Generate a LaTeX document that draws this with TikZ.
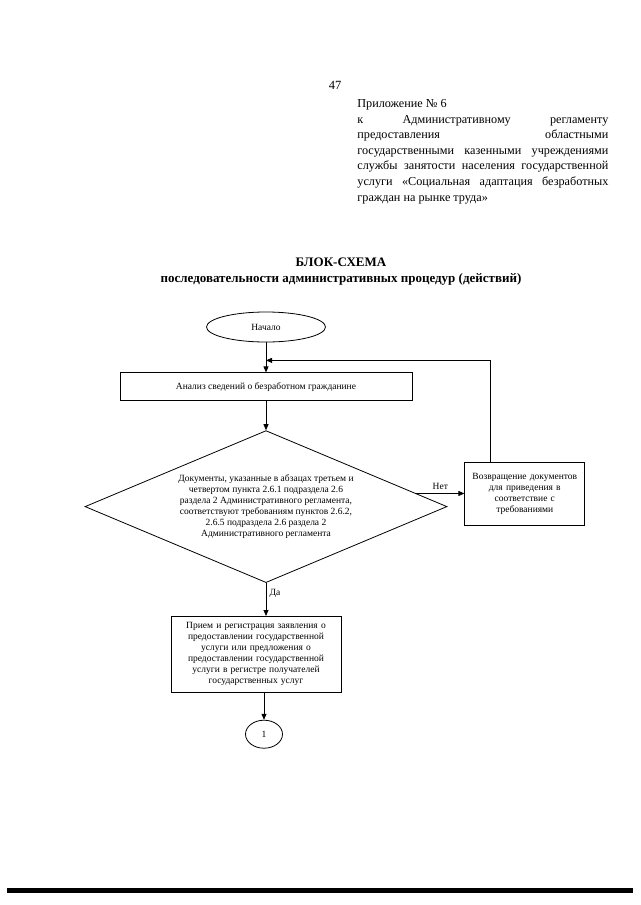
\documentclass[tikz,border=0pt]{standalone}
\usepackage{fontspec}
\setmainfont{Liberation Serif}
\usepackage{tikz}
\usetikzlibrary{shapes.geometric,positioning,arrows.meta}
\tikzset{
	note/.style = {
		font=\fontsize{9.5pt}{11pt}\selectfont
	}
}

\begin{document}
\begin{tikzpicture}[
		x=1pt, y=-1pt,
		auto,
        node distance = 30pt,
        block/.style = {rectangle, draw, note, align=center, inner sep=4pt},
        term/.style = {ellipse, draw, note, inner sep=0pt},
        decision/.style = {diamond, draw, note, align=center, inner sep=0pt, shape aspect=2.4},
        line width=0.8pt,
        -{Triangle[length=6pt,width=5pt]}
    ]
    \useasboundingbox (0,0) rectangle (640,905);

    % header
    \node[font=\fontsize{12.5pt}{15pt}\selectfont] (page) at (335,85) {47};
    \node[anchor=north west, text width=251pt, align=justify, inner sep=0pt,
          font=\fontsize{12.2pt}{15.6pt}\selectfont] (annex) at (357,99)
        {Приложение № 6\\ к Административному регламенту\linebreak
         предоставления областными\linebreak
         государственными казенными учреждениями\linebreak
         службы занятости населения государственной\linebreak
         услуги «Социальная адаптация безработных\linebreak
         граждан на рынке труда»};
    \node[font=\bfseries\fontsize{13pt}{16pt}\selectfont, align=center] (title) at (341,272)
        {БЛОК-СХЕМА\\последовательности административных процедур (действий)};

    % blocks
    \node[term, minimum width=119pt, minimum height=30pt] (start) at (266,327) {Начало};
    \node[block, minimum width=292pt, minimum height=28pt, below=30pt of start] (analiz)
        {Анализ сведений о безработном гражданине};
    \coordinate[above=12pt of analiz.north] (join);
    \node[decision, minimum width=362pt, minimum height=152pt, below=29pt of analiz] (cond)
        {Документы, указанные в абзацах третьем и\\
         четвертом пункта 2.6.1 подраздела 2.6\\
         раздела 2 Административного регламента,\\
         соответствуют требованиям пунктов 2.6.2,\\
         2.6.5 подраздела 2.6 раздела 2\\
         Административного регламента};
    \node[block, text width=112pt, minimum height=63pt, right=17pt of cond, yshift=13pt] (vozvrat)
        {Возвращение документов\\для приведения в\\соответствие с\\требованиями};
    \node[block, text width=162pt, minimum height=76pt, below=33pt of cond, xshift=-10pt] (priem)
        {Прием и регистрация заявления о\\предоставлении государственной\\услуги или предложения о\\предоставлении государственной\\услуги в регистре получателей\\государственных услуг};
    \node[term, minimum width=37pt, minimum height=28pt, below=27pt of priem, xshift=8pt] (one) {1};

    \draw (start) -- (analiz);
    \draw (analiz) -- (cond);
    \draw (cond.5) -- node[note, above] {Нет} (cond.5 -| vozvrat.west);
    \draw ([xshift=26pt]vozvrat.north west) |- (join);
    \draw (cond) -- node[note, pos=0.3, right] {Да} (cond |- priem.north);
    \draw (priem.south -| one) -- (one);

    \fill[-] (7,888) rectangle (633,893);
\end{tikzpicture}
\end{document}
